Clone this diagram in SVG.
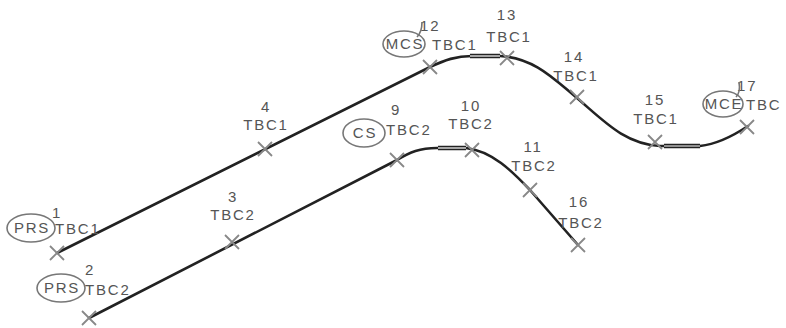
<svg xmlns="http://www.w3.org/2000/svg" width="786" height="328" viewBox="0 0 786 328">
<style>
.t{font-family:"Liberation Sans",Arial,sans-serif;font-size:15px;fill:#555;letter-spacing:1.8px}
.m{text-anchor:middle}
.e{fill:none;stroke:#777;stroke-width:1.6}
.x{stroke:#888;stroke-width:1.8;fill:none}
.ln{fill:none;stroke:#222;stroke-width:2.6;stroke-linecap:round}
.dbl{fill:none;stroke:#222;stroke-width:4.5}
.dbw{fill:none;stroke:#fff;stroke-width:1.2}
</style>
<defs>
<g id="xm"><path class="x" d="M-7,-7 L7,7 M-7,7 L7,-7"/></g>
</defs>
<rect width="786" height="328" fill="#fff"/>
<g id="connectors">
<path class="ln" d="M57,253 L430,67 C445,60 456,56 472,56 L500,56 C535,58 555,80 577,98 C605,122 625,144 660,146 L700,146 C718,144 733,136 748,126"/>
<path class="dbl" d="M470,56 L500,56"/><path class="dbw" d="M470,56 L500,56"/>
<path class="dbl" d="M664,146 L700,146"/><path class="dbw" d="M664,146 L700,146"/>
<path class="ln" d="M89,318 L397,160 C410,152 420,148 437,148 L466,148 C492,151 512,171 530,190 L578,245"/>
<path class="dbl" d="M438,148 L466,148"/><path class="dbw" d="M438,148 L466,148"/>
</g>
<g id="n1"><text class="t m" x="57" y="218">1</text><ellipse class="e" cx="31" cy="228" rx="24" ry="14"/><text class="t m" x="32" y="233">PRS</text><text class="t" x="55" y="234">TBC1</text><use href="#xm" x="57" y="253"/></g>
<g id="n2"><text class="t m" x="90" y="275">2</text><ellipse class="e" cx="61" cy="288" rx="24" ry="14"/><text class="t m" x="62" y="293">PRS</text><text class="t" x="85" y="295">TBC2</text><use href="#xm" x="89" y="318"/></g>
<g id="n3"><text class="t m" x="233" y="202">3</text><text class="t m" x="233" y="220">TBC2</text><use href="#xm" x="232" y="242"/></g>
<g id="n4"><text class="t m" x="266" y="112">4</text><text class="t m" x="266" y="130">TBC1</text><use href="#xm" x="265" y="149"/></g>
<g id="n9"><text class="t m" x="396" y="115">9</text><ellipse class="e" cx="364" cy="133" rx="21" ry="14"/><text class="t m" x="365" y="138">CS</text><text class="t" x="386" y="135">TBC2</text><use href="#xm" x="397" y="160"/></g>
<g id="n10"><text class="t m" x="471" y="111">10</text><text class="t m" x="471" y="129">TBC2</text><use href="#xm" x="472" y="150"/></g>
<g id="n11"><text class="t m" x="533" y="152">11</text><text class="t m" x="534" y="171">TBC2</text><use href="#xm" x="530" y="190"/></g>
<g id="n16"><text class="t m" x="579" y="207">16</text><text class="t m" x="581" y="228">TBC2</text><use href="#xm" x="578" y="245"/></g>
<g id="n12"><text class="t" x="420" y="31">12</text><path class="e" d="M417,37 C421,33 422,28 422,22"/><ellipse class="e" cx="404" cy="44" rx="21" ry="13"/><text class="t m" x="405" y="49">MCS</text><text class="t" x="432" y="50">TBC1</text><use href="#xm" x="430" y="67"/></g>
<g id="n13"><text class="t m" x="507" y="20">13</text><text class="t m" x="509" y="42">TBC1</text><use href="#xm" x="507" y="58"/></g>
<g id="n14"><text class="t m" x="574" y="62">14</text><text class="t m" x="576" y="81">TBC1</text><use href="#xm" x="577" y="97"/></g>
<g id="n15"><text class="t m" x="655" y="105">15</text><text class="t m" x="656" y="124">TBC1</text><use href="#xm" x="655" y="142"/></g>
<g id="n17"><text class="t" x="737" y="91">17</text><path class="e" d="M736,97 C740,93 740,88 739,82"/><ellipse class="e" cx="723" cy="104" rx="20" ry="13"/><text class="t m" x="724" y="109">MCE</text><text class="t" x="746" y="110">TBC</text><use href="#xm" x="747" y="127"/></g>
</svg>
